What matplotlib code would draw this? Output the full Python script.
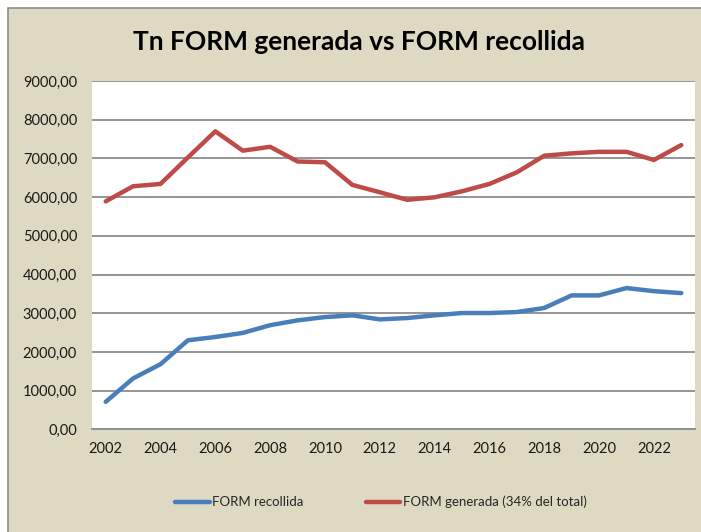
import matplotlib
matplotlib.use("Agg")
import matplotlib.pyplot as plt
from matplotlib.patches import Rectangle
from matplotlib.ticker import FuncFormatter, MultipleLocator

years = list(range(2002, 2024))
recollida = [710, 1315, 1683, 2300, 2385, 2490, 2690, 2815, 2900, 2945, 2840,
             2875, 2945, 3005, 3005, 3030, 3135, 3460, 3460, 3650, 3570, 3520]
generada = [5890, 6280, 6340, 7025, 7700, 7200, 7300, 6920, 6900, 6315, 6125,
            5930, 5995, 6150, 6340, 6640, 7070, 7130, 7170, 7170, 6960, 7345]
title = "Tn FORM generada vs FORM recollida"
label_rec = "FORM recollida"
label_gen = "FORM generada (34% del total)"

plt.rcParams['font.family'] = ['Lato', 'DejaVu Sans']

W, H = 701, 532
fig = plt.figure(figsize=(W / 100, H / 100), dpi=100)
fig.patch.set_facecolor('white')
bg = '#DDD9C3'
fig.patches.append(Rectangle((8 / W, -0.05), 1.2, 1 - 8 / H + 0.05, transform=fig.transFigure,
                             facecolor=bg, edgecolor='#8C8C8C', linewidth=1.2, zorder=-10))

ax = fig.add_axes([92 / W, 1 - 429.3 / H, (695 - 92) / W, (429.3 - 81) / H])
ax.set_zorder(1)
ax.set_facecolor('white')
ax.plot(years, recollida, color='#4A7EBB', linewidth=3.2, label=label_rec, solid_capstyle='round')
ax.plot(years, generada, color='#BE4B48', linewidth=3.2, label=label_gen, solid_capstyle='round')

ax.set_xlim(2001.5, 2023.5)
ax.set_ylim(0, 9000)
ax.yaxis.set_major_locator(MultipleLocator(1000))
ax.yaxis.set_major_formatter(FuncFormatter(lambda v, p: f"{v:.2f}".replace('.', ',')))
ax.set_xticks(years[::2])
ax.grid(axis='y', color='#8C8C8C', linewidth=1.3)
ax.set_axisbelow(True)
for s in ['top', 'right', 'left']:
    ax.spines[s].set_visible(False)
ax.spines['bottom'].set_color('#8C8C8C')
ax.spines['bottom'].set_linewidth(1.3)
ax.tick_params(axis='both', length=0, labelsize=10.5, colors='#1a1a1a')
ax.tick_params(axis='y', pad=10.8)
ax.tick_params(axis='x', pad=9)

fig.text(359 / W, 1 - 42 / H, title, ha='center', va='center', fontsize=19,
         fontweight='bold', color='black')

fig.legend(loc='center', bbox_to_anchor=(381 / W, 1 - 502 / H), ncol=2, frameon=False,
           fontsize=9.5, handlelength=2.6, handletextpad=0.2, columnspacing=4.7,
           labelcolor='#262626')

fig.savefig('out.png', dpi=100, facecolor=fig.get_facecolor())
